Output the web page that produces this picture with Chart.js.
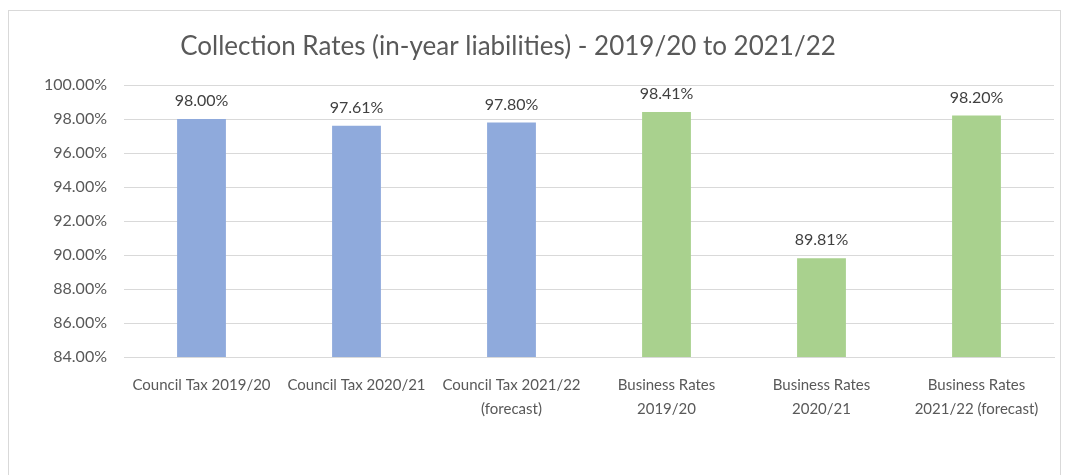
<!DOCTYPE html>
<html>
<head>
<meta charset="utf-8">
<script src="https://cdn.jsdelivr.net/npm/chart.js@4/dist/chart.umd.min.js"></script>
<style>
  html, body { margin: 0; padding: 0; background: #fff; overflow: hidden; }
  .frame {
    position: absolute; left: 8px; top: 10px; width: 1053px; height: 480px;
    border: 1px solid #d9d9d9; box-sizing: border-box;
  }
  .chart-box { position: absolute; left: 0; top: 0; width: 1069px; height: 475px; }
</style>
</head>
<body>
<div class="frame"></div>
<div class="chart-box">
  <canvas id="collectionChart"></canvas>
</div>
<script>
  // data
  const categories = [
    "Council Tax 2019/20",
    "Council Tax 2020/21",
    ["Council Tax 2021/22", "(forecast)"],
    ["Business Rates", "2019/20"],
    ["Business Rates", "2020/21"],
    ["Business Rates", "2021/22 (forecast)"],
  ];
  const rates = [98.0, 97.61, 97.8, 98.41, 89.81, 98.2];
  const barColors = ["#8faadc", "#8faadc", "#8faadc", "#a9d18e", "#a9d18e", "#a9d18e"];
  const yMin = 84;
  const yMax = 100;
  const yStep = 2;
  const chartTitle = "Collection Rates (in-year liabilities) - 2019/20 to 2021/22";

  const FONT = "Lato, 'Open Sans', sans-serif";

  // title sits a bit left of centre in the original, so draw it ourselves
  const titleText = {
    id: "titleText",
    afterDraw(chart) {
      const ctx = chart.ctx;
      ctx.save();
      ctx.font = "26px " + FONT;
      ctx.fillStyle = "#595959";
      ctx.textAlign = "center";
      ctx.textBaseline = "middle";
      ctx.fillText(chartTitle, 508, 47);
      ctx.restore();
    },
  };

  // draws the value above each bar (no datalabels plugin available)
  const valueLabels = {
    id: "valueLabels",
    afterDatasetsDraw(chart) {
      const ctx = chart.ctx;
      const meta = chart.getDatasetMeta(0);
      ctx.save();
      ctx.font = "16px " + FONT;
      ctx.fillStyle = "#404040";
      ctx.textAlign = "center";
      ctx.textBaseline = "middle";
      meta.data.forEach((bar, i) => {
        ctx.fillText(rates[i].toFixed(2) + "%", bar.x, bar.y - 18);
      });
      ctx.restore();
    },
  };

  const ctx = document.getElementById("collectionChart").getContext("2d");
  const collectionChart = new Chart(ctx, {
    type: "bar",
    data: {
      labels: categories,
      datasets: [
        {
          data: rates,
          backgroundColor: barColors,
          borderWidth: 0,
          barPercentage: 0.63,
          categoryPercentage: 0.5,
        },
      ],
    },
    options: {
      responsive: true,
      maintainAspectRatio: false,
      animation: false,
      layout: { padding: { left: 0, right: 15, top: 85, bottom: 0 } },
      plugins: {
        legend: { display: false },
        tooltip: { enabled: false },
        title: { display: false },
      },
      scales: {
        y: {
          min: yMin,
          max: yMax,
          border: { display: false },
          grid: { color: "#d9d9d9", lineWidth: 1, drawTicks: false },
          ticks: {
            stepSize: yStep,
            color: "#595959",
            padding: 17,
            font: { family: FONT, size: 16 },
            callback: (v) => v.toFixed(2) + "%",
          },
          afterFit(scale) { scale.width = 124; },
        },
        x: {
          border: { color: "#d9d9d9" },
          grid: { display: false },
          ticks: {
            color: "#595959",
            maxRotation: 0,
            autoSkip: false,
            padding: 8,
            font: { family: FONT, size: 15, lineHeight: 1.6 },
          },
          afterFit(scale) { scale.height = 118; },
        },
      },
    },
    plugins: [valueLabels, titleText],
  });
</script>
</body>
</html>
